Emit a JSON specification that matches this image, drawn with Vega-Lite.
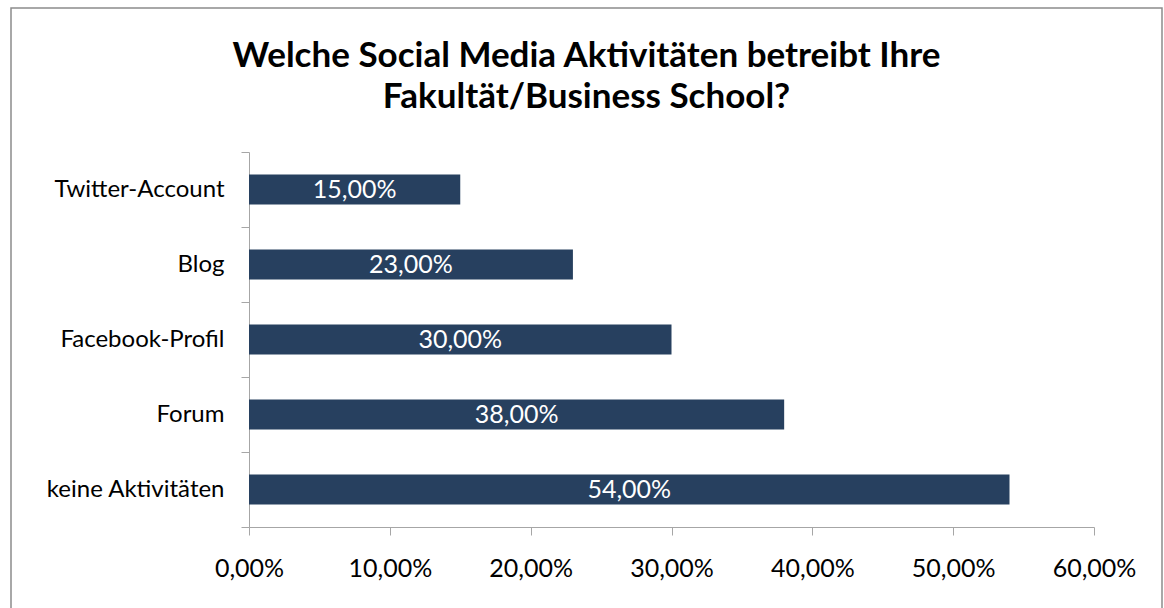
{
  "$schema": "https://vega.github.io/schema/vega-lite/v6.json",
  "width": 1151,
  "height": 620,
  "autosize": "none",
  "padding": {"left": 11, "top": 8, "right": 2, "bottom": 0},
  "background": "white",
  "config": {
    "locale": {"number": {"decimal": ",", "thousands": ".", "grouping": [3], "currency": ["", " €"]}},
    "view": {"stroke": "#8C8C8C", "strokeWidth": 1.5},
    "font": "Lato"
  },
  "title": {
    "text": ["Welche Social Media Aktivitäten betreibt Ihre", "Fakultät/Business School?"],
    "fontSize": 35,
    "fontWeight": "bold",
    "font": "Lato",
    "color": "black",
    "anchor": "middle",
    "frame": "group",
    "offset": -119,
    "lineHeight": 41
  },
  "data": {
    "values": [
      {"Aktivität": "Twitter-Account", "Anteil": 0.15},
      {"Aktivität": "Blog", "Anteil": 0.23},
      {"Aktivität": "Facebook-Profil", "Anteil": 0.30},
      {"Aktivität": "Forum", "Anteil": 0.38},
      {"Aktivität": "keine Aktivitäten", "Anteil": 0.54}
    ]
  },
  "encoding": {
    "y": {
      "field": "Aktivität",
      "type": "nominal",
      "sort": null,
      "title": null,
      "scale": {"paddingInner": 0, "paddingOuter": 0, "range": [144, 519]},
      "axis": {
        "offset": -238,
        "tickBand": "extent",
        "tickSize": 8,
        "tickColor": "#A6A6A6",
        "domainColor": "#A6A6A6",
        "labelFontSize": 24,
        "labelColor": "black",
        "labelFont": "Lato",
        "labelPadding": 17,
        "labelLimit": 300
      }
    }
  },
  "layer": [
    {
      "mark": {"type": "bar", "color": "#27405F", "height": {"band": 0.4}},
      "encoding": {
        "x": {
          "field": "Anteil",
          "type": "quantitative",
          "title": null,
          "scale": {"domain": [0, 0.6], "nice": false, "range": [238, 1083]},
          "axis": {
            "offset": -101,
            "format": ".2%",
            "values": [0, 0.1, 0.2, 0.3, 0.4, 0.5, 0.6],
            "grid": false,
            "tickSize": 8,
            "tickColor": "#A6A6A6",
            "domainColor": "#A6A6A6",
            "labelFontSize": 25,
            "labelColor": "black",
            "labelFont": "Lato",
            "labelPadding": 21,
            "labelFlush": false
          }
        }
      }
    },
    {
      "mark": {"type": "text", "color": "white", "fontSize": 25, "font": "Lato", "baseline": "middle", "align": "center"},
      "encoding": {
        "x": {
          "field": "Anteil",
          "type": "quantitative",
          "scale": {"domain": [0, 1.2], "nice": false, "range": [238, 1083]},
          "axis": null
        },
        "text": {"field": "Anteil", "type": "quantitative", "format": ".2%"}
      }
    }
  ],
  "resolve": {"scale": {"x": "independent"}}
}
